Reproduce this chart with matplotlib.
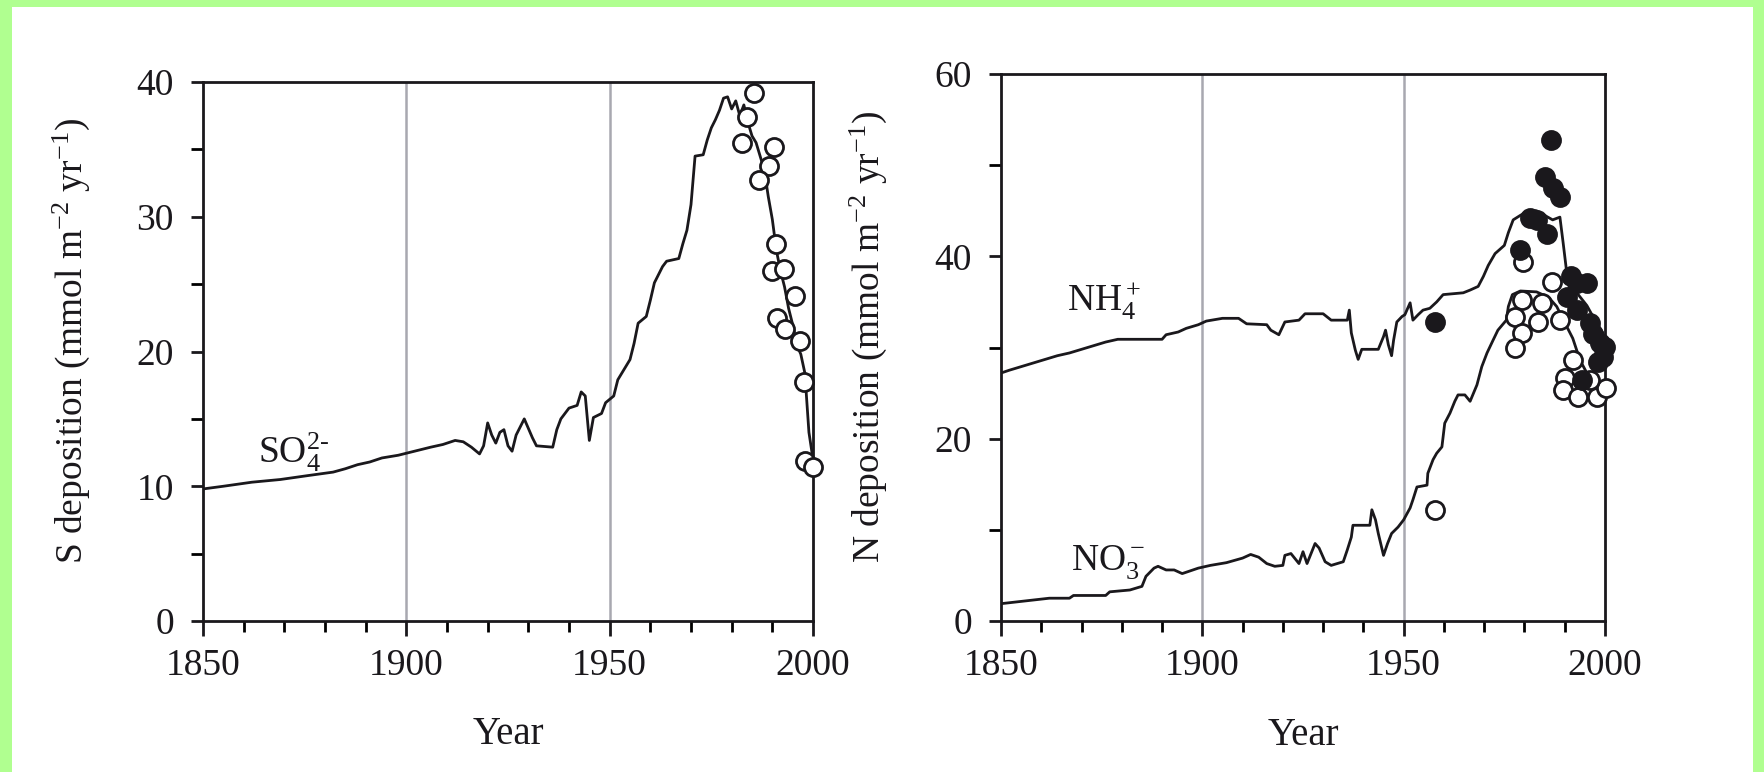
import matplotlib
matplotlib.use("Agg")
import matplotlib.pyplot as plt
from matplotlib.patches import Rectangle
from matplotlib.ticker import MultipleLocator

plt.rcParams['font.family'] = ['Liberation Serif', 'DejaVu Serif']
plt.rcParams['mathtext.fontset'] = 'custom'
plt.rcParams['mathtext.rm'] = 'Liberation Serif'
plt.rcParams['mathtext.it'] = 'Liberation Serif:italic'
plt.rcParams['mathtext.bf'] = 'Liberation Serif:bold'

# ---------------- data ----------------
so4_year = [1850, 1855, 1862, 1869, 1876, 1882, 1885, 1888, 1891, 1894, 1898, 1902, 1906,
            1909, 1912, 1914, 1916, 1918, 1919, 1920, 1921, 1922, 1923, 1924, 1925, 1926,
            1927, 1928, 1929, 1930, 1931, 1932, 1936, 1937, 1938, 1940, 1942, 1943, 1944,
            1945, 1946, 1948, 1949, 1951, 1952, 1954, 1955, 1956, 1957, 1959, 1960, 1961,
            1963, 1964, 1967, 1968, 1969, 1970, 1971, 1973, 1974, 1975, 1976, 1977, 1978,
            1979, 1980, 1981, 1982, 1983, 1984, 1985, 1986, 1987, 1988, 1989, 1990, 1991,
            1992, 1993, 1994, 1995, 1996, 1997, 1998, 1999, 2000]
so4_val = [9.8, 10.0, 10.3, 10.5, 10.8, 11.05, 11.3, 11.6, 11.8, 12.1, 12.3, 12.6, 12.9,
           13.1, 13.4, 13.3, 12.9, 12.4, 13.0, 14.7, 13.8, 13.2, 14.0, 14.2, 13.0, 12.6,
           13.8, 14.4, 15.0, 14.3, 13.6, 13.0, 12.9, 14.2, 15.0, 15.8, 16.0, 17.0, 16.7,
           13.4, 15.1, 15.4, 16.2, 16.7, 17.9, 18.9, 19.4, 20.6, 22.1, 22.6, 23.8, 25.1,
           26.3, 26.7, 26.9, 28.0, 29.0, 30.9, 34.5, 34.6, 35.7, 36.6, 37.2, 37.9, 38.8,
           38.9, 38.0, 38.6, 37.5, 38.3, 37.0, 36.0, 35.5, 34.5, 33.5, 31.5, 29.8, 27.5,
           26.0, 24.8, 23.2, 22.0, 20.5, 19.8, 18.4, 14.0, 12.0]

so4_obs_year = [1985.6, 1983.7, 1982.6, 1990.3, 1989.2, 1986.7, 1990.9, 1989.8, 1992.8,
                1995.6, 1991.2, 1993.1, 1996.7, 1997.8, 1998.1, 2000.0]
so4_obs = [39.2, 37.4, 35.5, 35.2, 33.8, 32.7, 28.0, 26.0, 26.1, 24.1, 22.5, 21.7, 20.8,
           17.7, 11.9, 11.4]

nh4_year = [1850, 1852, 1855, 1858, 1861, 1864, 1867, 1870, 1873, 1876, 1879, 1890, 1891,
            1894, 1896, 1899, 1901, 1905, 1909, 1911, 1916, 1917, 1919, 1920.5, 1924,
            1925.5, 1930, 1932, 1936, 1936.5, 1937, 1938, 1938.7, 1939.6, 1943.7, 1945,
            1945.5, 1946.2, 1947, 1947.5, 1948.3, 1949.6, 1950.3, 1951.6, 1952.3, 1953.6,
            1954.8, 1956.5, 1958.2, 1959.8, 1964.8, 1966.5, 1968.5, 1969.8, 1971, 1972.7,
            1975, 1976, 1977.2, 1979, 1981, 1983, 1985, 1987, 1988.8, 1989.6, 1990.5, 1993,
            1995.5, 1997.5, 1999.5, 2000]
nh4_val = [27.2, 27.5, 27.9, 28.3, 28.7, 29.1, 29.4, 29.8, 30.2, 30.6, 30.9, 30.9, 31.4,
           31.7, 32.1, 32.5, 32.9, 33.2, 33.2, 32.6, 32.5, 31.9, 31.4, 32.8, 33.0,
           33.7, 33.7, 33.0, 33.0, 34.1, 31.6, 29.7, 28.7, 29.8, 29.8, 31.2,
           31.9, 30.3, 29.1, 30.8, 32.8, 33.4, 33.6, 34.9, 33.0, 33.6,
           34.1, 34.3, 35.0, 35.8, 36.0, 36.3, 36.7, 37.8, 39.0, 40.3,
           41.2, 42.6, 44.0, 44.5, 45.0, 45.0, 44.5, 44.0, 44.3, 41.5, 38.2, 36.0,
           34.6, 33.0, 31.6, 30.5]

nh4_obs_year = [1957.8, 1986.5, 1985.1, 1987.1, 1988.8, 1981.4, 1983.0, 1985.6, 1978.9,
                1991.5, 1993.0, 1995.5, 1990.5, 1993.0, 1996.3, 1997.0, 1998.8, 2000.0,
                1999.5, 1998.3, 1994.3]
nh4_obs = [32.8, 52.8, 48.7, 47.5, 46.5, 44.2, 44.0, 42.5, 40.7,
           37.8, 37.1, 37.1, 35.5, 34.1, 32.7, 31.5, 30.5, 30.1,
           29.0, 28.4, 26.4]

no3_year = [1850, 1862, 1867, 1868, 1876, 1877, 1882, 1885, 1886, 1888, 1889, 1891, 1893,
            1895, 1899, 1902, 1906, 1910, 1912, 1914, 1916, 1918, 1920, 1920.5, 1922, 1924,
            1925, 1926, 1928, 1929, 1930.5, 1932, 1935, 1936, 1937, 1937.4, 1941.6, 1942.1,
            1943, 1943.7, 1945, 1946, 1947, 1948.6, 1950, 1951.6, 1952.3, 1953.3, 1955.8,
            1956, 1957.3, 1958.2, 1959.5, 1960.2, 1961.5, 1962.7, 1963.5, 1965.2, 1966.5,
            1968.2, 1969.4, 1970.7, 1972.2, 1973.4, 1975.5, 1976, 1977, 1979, 1983, 1986,
            1988, 1990.5, 1992, 1993.8, 1995.5, 1997.5, 1999.2, 2000]
no3_val = [1.9, 2.5, 2.5, 2.8, 2.8, 3.2, 3.4, 3.8, 4.9, 5.8, 6.0, 5.6, 5.6,
           5.2, 5.8, 6.1, 6.4, 6.9, 7.3, 7.0, 6.3, 6.0, 6.1, 7.2, 7.4, 6.3,
           7.6, 6.3, 8.5, 8.0, 6.5, 6.1, 6.5, 7.8, 9.2, 10.5, 10.5, 12.2,
           11.1, 9.6, 7.2, 8.5, 9.6, 10.3, 11.1, 12.4, 13.3, 14.7, 14.9,
           16.2, 17.7, 18.4, 19.1, 21.7, 22.8, 24.1, 24.8, 24.8, 24.1,
           25.9, 27.9, 29.4, 30.8, 31.9, 33.0, 34.5, 35.8, 36.2, 36.1, 35.5,
           34.5, 32.3, 31.0, 28.6, 27.2, 25.7, 25.0, 24.5]

no3_obs_year = [1957.8, 1979.7, 1986.8, 1979.4, 1984.3, 1977.6, 1983.4, 1988.8, 1979.4,
                1977.6, 1992.1, 1990.0, 1989.6, 1993.3, 1998.0, 2000.3, 1996.3]
no3_obs = [12.2, 39.4, 37.2, 35.2, 34.9, 33.4, 32.8, 33.0, 31.6,
           29.9, 28.6, 26.6, 25.3, 24.6, 24.6, 25.6, 26.4]

x_ticks = [1850, 1900, 1950, 2000]
gridlines = [1900, 1950]
left_yticks = [0, 10, 20, 30, 40]
right_yticks = [0, 20, 40, 60]

# ---------------- figure ----------------
W, H = 1765, 772
fig = plt.figure(figsize=(W / 100, H / 100), dpi=100)
fig.patch.set_facecolor('white')

green = '#b0ff90'
fig.patches.append(Rectangle((0, 1 - 7 / H), 1, 7 / H, transform=fig.transFigure,
                             facecolor=green, edgecolor='none', zorder=0))
fig.patches.append(Rectangle((0, 0), 12 / W, 1, transform=fig.transFigure,
                             facecolor=green, edgecolor='none', zorder=0))
fig.patches.append(Rectangle((1 - 12 / W, 0), 12 / W, 1, transform=fig.transFigure,
                             facecolor=green, edgecolor='none', zorder=0))

FS = 27
ink = '#1a181c'
gridc = '#a8a8b0'
LW = 2.0


def style(ax, yticks, ymax, yminor):
    ax.set_xlim(1850, 2000)
    ax.set_ylim(0, ymax)
    ax.set_xticks(x_ticks)
    ax.set_yticks(yticks)
    ax.xaxis.set_minor_locator(MultipleLocator(10))
    ax.yaxis.set_minor_locator(MultipleLocator(yminor))
    for s in ax.spines.values():
        s.set_linewidth(LW)
        s.set_color(ink)
    ax.tick_params(axis='x', which='major', direction='out', length=10.5, width=LW,
                   pad=9, labelsize=FS, colors=ink)
    ax.tick_params(axis='x', which='minor', direction='out', length=8, width=LW)
    ax.tick_params(axis='y', which='major', direction='out', length=9, width=LW,
                   pad=12, labelsize=FS, colors=ink)
    ax.tick_params(axis='y', which='minor', direction='out', length=9, width=LW)
    for g in gridlines:
        ax.axvline(g, color=gridc, lw=1.8, zorder=1)
    ax.set_xlabel('Year', fontsize=FS + 1, color=ink)
    ax.xaxis.set_label_coords(0.5, -0.21)
    ax.xaxis.label.set_va('center')


# Left panel
ax1 = fig.add_axes([203 / W, 1 - 621 / H, 610 / W, 539 / H])
style(ax1, left_yticks, 40, 5)
ax1.plot(so4_year, so4_val, color=ink, lw=LW, zorder=3)
ax1.plot(so4_obs_year, so4_obs, 'o', ms=13, mfc='white', mec=ink, mew=2.0,
         zorder=4, clip_on=False)
ax1.set_ylabel(r'S deposition (mmol m$^{-2}$ yr$^{-1}$)', fontsize=FS, color=ink)
ax1.yaxis.set_label_coords(-0.182, 0.52)
ax1.text(1863.5, 11.7, r'SO$_4^{2\text{-}}$', fontsize=FS, color=ink, ha='left', va='baseline')

# Right panel
ax2 = fig.add_axes([1001 / W, 1 - 621 / H, 604 / W, 547 / H])
style(ax2, right_yticks, 60, 10)
ax2.plot(nh4_year, nh4_val, color=ink, lw=LW, zorder=3)
ax2.plot(no3_year, no3_val, color=ink, lw=LW, zorder=3)
ax2.plot(no3_obs_year, no3_obs, 'o', ms=13, mfc='white', mec=ink, mew=2.0,
         zorder=4, clip_on=False)
ax2.plot(nh4_obs_year, nh4_obs, 'o', ms=13, mfc=ink, mec=ink, mew=2.0,
         zorder=5, clip_on=False)
ax2.set_ylabel(r'N deposition (mmol m$^{-2}$ yr$^{-1}$)', fontsize=FS, color=ink)
ax2.yaxis.set_label_coords(-0.185, 0.52)
ax2.text(1866.5, 34.0, r'NH$_4^+$', fontsize=FS, color=ink, ha='left', va='baseline')
ax2.text(1867.5, 5.6, r'NO$_3^-$', fontsize=FS, color=ink, ha='left', va='baseline')

fig.savefig('out.png', dpi=100, facecolor=fig.get_facecolor())
